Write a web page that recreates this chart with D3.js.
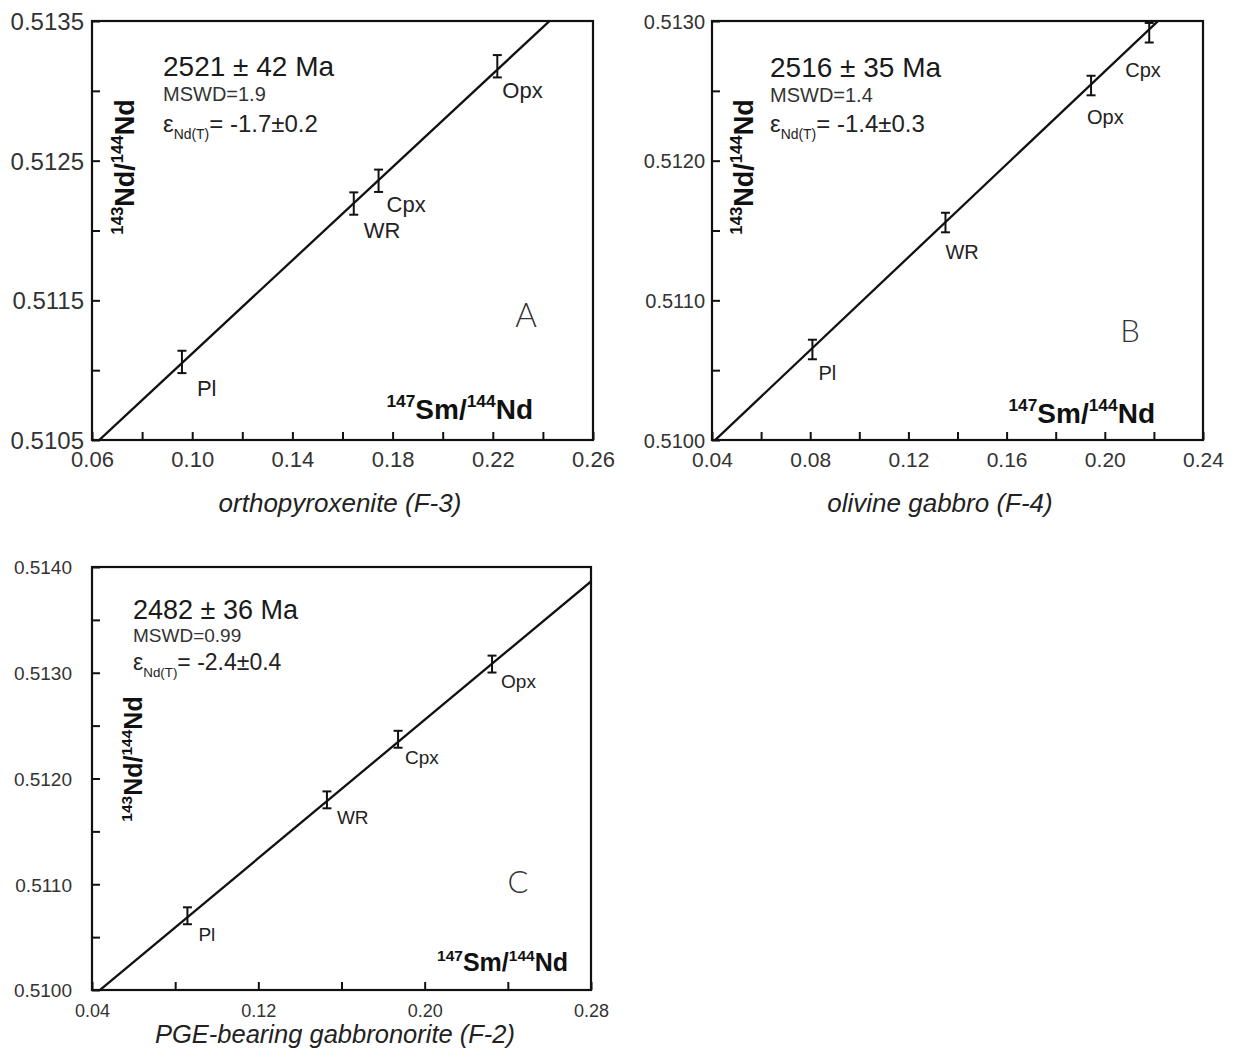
<!DOCTYPE html>
<html>
<head>
<meta charset="utf-8">
<script src="https://cdn.jsdelivr.net/npm/d3@7"></script>
<style>
  body { margin: 0; background: #fff; }
  svg { display: block; font-family: "Liberation Sans", Arial, sans-serif; }
</style>
</head>
<body>
<div id="chart"></div>
<script>
var width = 1240, height = 1064;

// panel A - orthopyroxenite (F-3)
var mineralsA = ["Pl", "WR", "Cpx", "Opx"];
var smndA = [0.0959, 0.1645, 0.1744, 0.2218];
var ndndA = [0.511059, 0.512193, 0.512356, 0.513176];
var errA = [0.00008, 0.00008, 0.00008, 0.00008];
var isoA = {slope: 0.01669, intercept: 0.509450};
var xTicksA = [0.06, 0.08, 0.10, 0.12, 0.14, 0.16, 0.18, 0.20, 0.22, 0.24, 0.26];
var yTicksA = [0.5105, 0.5110, 0.5115, 0.5120, 0.5125, 0.5130, 0.5135];

// panel B - olivine gabbro (F-4)
var mineralsB = ["Pl", "WR", "Opx", "Cpx"];
var smndB = [0.0809, 0.1351, 0.1944, 0.2181];
var ndndB = [0.510648, 0.511557, 0.512538, 0.512916];
var errB = [0.00007, 0.00007, 0.00007, 0.00007];
var isoB = {slope: 0.01663, intercept: 0.509313};
var xTicksB = [0.04, 0.06, 0.08, 0.10, 0.12, 0.14, 0.16, 0.18, 0.20, 0.22, 0.24];
var yTicksB = [0.5100, 0.5105, 0.5110, 0.5115, 0.5120, 0.5125, 0.5130];

// panel C - PGE-bearing gabbronorite (F-2)
var mineralsC = ["Pl", "WR", "Cpx", "Opx"];
var smndC = [0.0859, 0.1530, 0.1872, 0.2324];
var ndndC = [0.510702, 0.511798, 0.512371, 0.513082];
var errC = [0.00008, 0.00008, 0.00008, 0.00008];
var isoC = {slope: 0.01636, intercept: 0.509283};
var xTicksC = [0.04, 0.08, 0.12, 0.16, 0.20, 0.24, 0.28];
var yTicksC = [0.5100, 0.5105, 0.5110, 0.5115, 0.5120, 0.5125, 0.5130, 0.5135, 0.5140];

var svg = d3.select("#chart").append("svg")
    .attr("width", width)
    .attr("height", height);

// text with sub / superscript pieces: [text, 0 normal | 1 sup | -1 sub]
function richText(t, parts, size, small) {
  var cur = 0;
  parts.forEach(function(p) {
    var shift = p[1] === 1 ? -size * 0.42 : (p[1] === -1 ? size * 0.3 : 0);
    t.append("tspan")
      .attr("dy", shift - cur)
      .attr("font-size", p[1] ? small : size)
      .text(p[0]);
    cur = shift;
  });
}

function drawPanel(p) {
  var g = svg.append("g");
  var x = d3.scaleLinear().domain(d3.extent(p.xTicks)).range([p.left, p.right]);
  var y = d3.scaleLinear().domain(d3.extent(p.yTicks)).range([p.bottom, p.top]);

  g.append("clipPath").attr("id", "clip" + p.name)
    .append("rect")
    .attr("x", p.left).attr("y", p.top)
    .attr("width", p.right - p.left).attr("height", p.bottom - p.top);

  // axes, ticks pointing inward, labels on every other tick
  var xAxis = g.append("g")
    .attr("transform", "translate(0," + p.bottom + ")")
    .call(d3.axisBottom(x).tickValues(p.xTicks).tickSizeInner(-8).tickSizeOuter(0)
      .tickPadding(p.xPad)
      .tickFormat(function(d, i) { return i % 2 === 0 ? d3.format(".2f")(d) : ""; }));
  var yAxis = g.append("g")
    .attr("transform", "translate(" + p.left + ",0)")
    .call(d3.axisLeft(y).tickValues(p.yTicks).tickSizeInner(-8).tickSizeOuter(0)
      .tickPadding(p.yPad)
      .tickFormat(function(d, i) { return i % 2 === 0 ? d3.format(".4f")(d) : ""; }));
  [xAxis, yAxis].forEach(function(a) {
    a.select(".domain").remove();
    a.selectAll("line").attr("stroke", "#111").attr("stroke-width", 2);
    a.selectAll("text").attr("fill", "#333").attr("font-family", "Liberation Sans, Arial, sans-serif");
  });
  xAxis.selectAll("text").attr("font-size", p.xFont);
  yAxis.selectAll("text").attr("font-size", p.yFont).attr("dy", "0.36em");

  // frame
  g.append("rect")
    .attr("x", p.left).attr("y", p.top)
    .attr("width", p.right - p.left).attr("height", p.bottom - p.top)
    .attr("fill", "none").attr("stroke", "#111").attr("stroke-width", 2.2);

  // isochron
  var x0 = x.domain()[0], x1 = x.domain()[1];
  g.append("line")
    .attr("clip-path", "url(#clip" + p.name + ")")
    .attr("x1", x(x0)).attr("y1", y(p.iso.intercept + p.iso.slope * x0))
    .attr("x2", x(x1)).attr("y2", y(p.iso.intercept + p.iso.slope * x1))
    .attr("stroke", "#111").attr("stroke-width", 2.3);

  // error bars
  var pts = p.sm.map(function(d, i) {
    return {x: d, y: p.nd[i], e: p.err[i], name: p.minerals[i], off: p.offsets[i]};
  });
  var eb = g.selectAll(".eb").data(pts).enter().append("g").attr("class", "eb")
    .attr("stroke", "#111").attr("stroke-width", 2);
  eb.append("line")
    .attr("x1", function(d) { return x(d.x); }).attr("x2", function(d) { return x(d.x); })
    .attr("y1", function(d) { return y(d.y - d.e); }).attr("y2", function(d) { return y(d.y + d.e); });
  [-1, 1].forEach(function(s) {
    eb.append("line")
      .attr("x1", function(d) { return x(d.x) - 4.5; }).attr("x2", function(d) { return x(d.x) + 4.5; })
      .attr("y1", function(d) { return y(d.y + s * d.e); }).attr("y2", function(d) { return y(d.y + s * d.e); });
  });

  // mineral labels
  g.selectAll(".ml").data(pts).enter().append("text")
    .attr("x", function(d) { return x(d.x) + d.off[0]; })
    .attr("y", function(d) { return y(d.y) + d.off[1]; })
    .attr("font-size", p.labelFont).attr("fill", "#222")
    .text(function(d) { return d.name; });

  // age, MSWD, epsilon
  g.append("text").attr("x", p.note[0]).attr("y", p.note[1])
    .attr("font-size", p.ageFont).attr("fill", "#1a1a1a").text(p.age);
  g.append("text").attr("x", p.note[0]).attr("y", p.note[1] + p.noteGap[0])
    .attr("font-size", p.mswdFont).attr("fill", "#333").text(p.mswd);
  var eps = g.append("text").attr("x", p.note[0]).attr("y", p.note[1] + p.noteGap[1])
    .attr("fill", "#222");
  richText(eps, [["ε", 0], ["Nd(T)", -1], [p.eps, 0]], p.epsFont, p.epsFont * 0.58);

  // y-axis title (rotated)
  var yl = g.append("text")
    .attr("transform", "translate(" + p.yTitle[0] + "," + p.yTitle[1] + ") rotate(-90)")
    .attr("text-anchor", "middle").attr("font-weight", "bold").attr("fill", "#111");
  richText(yl, [["143", 1], ["Nd/", 0], ["144", 1], ["Nd", 0]], p.titleFont, p.titleFont * 0.62);

  // x-axis title inside plot
  var xl = g.append("text").attr("x", p.xTitle[0]).attr("y", p.xTitle[1])
    .attr("text-anchor", "end").attr("font-weight", "bold").attr("fill", "#111");
  richText(xl, [["147", 1], ["Sm/", 0], ["144", 1], ["Nd", 0]], p.smFont, p.smFont * 0.62);

  // panel letter
  g.append("text").attr("x", p.letter[0]).attr("y", p.letter[1])
    .attr("text-anchor", "middle").attr("font-size", p.letterFont)
    .attr("font-family", "Lato, sans-serif").attr("font-weight", 300).attr("fill", "#333")
    .text(p.name);

  // rock name below
  g.append("text").attr("x", p.rock[0]).attr("y", p.rock[1])
    .attr("text-anchor", "middle").attr("font-style", "italic")
    .attr("font-size", p.rockFont).attr("fill", "#222").text(p.rockName);
}

drawPanel({
  name: "A", left: 92, right: 593, top: 21, bottom: 440,
  xTicks: xTicksA, yTicks: yTicksA, xPad: 11, yPad: 8, xFont: 22, yFont: 24,
  minerals: mineralsA, sm: smndA, nd: ndndA, err: errA, iso: isoA,
  offsets: [[15, 34], [10, 34], [8, 31], [5, 32]], labelFont: 22,
  note: [163, 76], noteGap: [25, 56], age: "2521 \u00b1 42 Ma", mswd: "MSWD=1.9", eps: "= -1.7\u00b10.2",
  ageFont: 28, mswdFont: 20, epsFont: 24,
  yTitle: [134, 167], titleFont: 27, xTitle: [533, 419], smFont: 28,
  letter: [526, 327], letterFont: 33,
  rock: [340, 512], rockFont: 26, rockName: "orthopyroxenite (F-3)"
});

drawPanel({
  name: "B", left: 712, right: 1203, top: 21, bottom: 440,
  xTicks: xTicksB, yTicks: yTicksB, xPad: 12, yPad: 7, xFont: 21, yFont: 20,
  minerals: mineralsB, sm: smndB, nd: ndndB, err: errB, iso: isoB,
  offsets: [[6, 31], [0, 36], [-4, 38], [-24, 44]], labelFont: 20,
  note: [770, 77], noteGap: [25, 55], age: "2516 \u00b1 35 Ma", mswd: "MSWD=1.4", eps: "= -1.4\u00b10.3",
  ageFont: 28, mswdFont: 20, epsFont: 24,
  yTitle: [753, 167], titleFont: 27, xTitle: [1155, 423], smFont: 28,
  letter: [1130, 342], letterFont: 31,
  rock: [940, 512], rockFont: 26, rockName: "olivine gabbro (F-4)"
});

drawPanel({
  name: "C", left: 92, right: 591, top: 567, bottom: 990,
  xTicks: xTicksC, yTicks: yTicksC, xPad: 14, yPad: 20, xFont: 18, yFont: 19,
  minerals: mineralsC, sm: smndC, nd: ndndC, err: errC, iso: isoC,
  offsets: [[11, 25], [10, 24], [7, 25], [9, 24]], labelFont: 19,
  note: [133, 619], noteGap: [23, 51], age: "2482 \u00b1 36 Ma", mswd: "MSWD=0.99", eps: "= -2.4\u00b10.4",
  ageFont: 27, mswdFont: 19, epsFont: 23,
  yTitle: [142, 759], titleFont: 25, xTitle: [568, 971], smFont: 25,
  letter: [518, 893], letterFont: 31,
  rock: [335, 1043], rockFont: 25.5, rockName: "PGE-bearing gabbronorite (F-2)"
});
</script>
</body>
</html>
